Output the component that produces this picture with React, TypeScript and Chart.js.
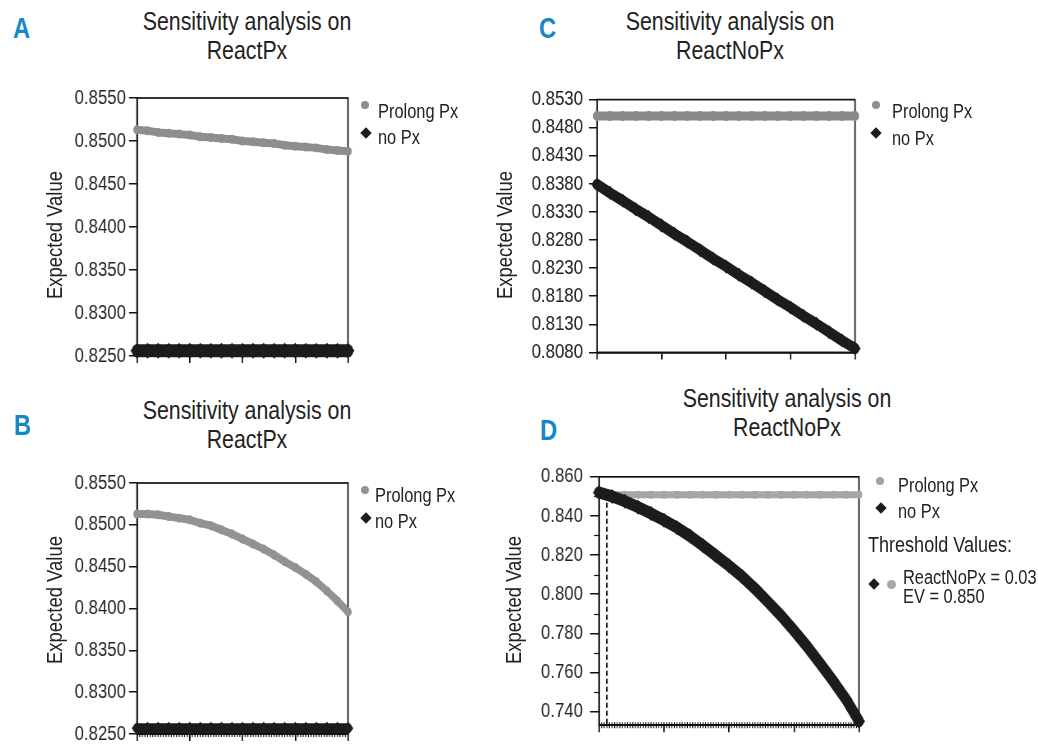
import React, { useEffect, useRef } from "react";
import { Chart, registerables } from "chart.js";

Chart.register(...registerables);

const FONT = '"Liberation Sans", Arial, Helvetica, sans-serif';
const SQ = 0.82; // horizontal condensing (Arial Narrow look)
const INK = "#222222";
const BLACK = "#1c1c1c";
const BLUE = "#1788c3";

// ---------------- data ----------------
const xValues = [0, 0.05, 0.1, 0.15, 0.2, 0.25, 0.3, 0.35, 0.4, 0.45, 0.5, 0.55, 0.6, 0.65, 0.7, 0.75, 0.8, 0.85, 0.9, 0.95, 1];
const xMajorTicks = [0, 0.25, 0.5, 0.75, 1];
const seriesNames = ["Prolong Px", "no Px"];
const chartTitleReact = ["Sensitivity analysis on", "ReactPx"];
const chartTitleNoReact = ["Sensitivity analysis on", "ReactNoPx"];
const yAxisTitle = "Expected Value";

// Panel A
const aProlong = [0.8513, 0.8512, 0.8510, 0.8509, 0.8508, 0.8507, 0.8505, 0.8504, 0.8503, 0.8502, 0.8500, 0.8499, 0.8498, 0.8497, 0.8495, 0.8494, 0.8493, 0.8492, 0.8490, 0.8489, 0.8488];
const aNoPx = [0.8256, 0.8256, 0.8256, 0.8256, 0.8256, 0.8256, 0.8256, 0.8256, 0.8256, 0.8256, 0.8256, 0.8256, 0.8256, 0.8256, 0.8256, 0.8256, 0.8256, 0.8256, 0.8256, 0.8256, 0.8256];
const aYTicks = [0.825, 0.83, 0.835, 0.84, 0.845, 0.85, 0.855];

// Panel B
const bProlong = [0.8513, 0.8513, 0.8512, 0.8510, 0.8508, 0.8506, 0.8502, 0.8499, 0.8494, 0.8489, 0.8483, 0.8477, 0.8471, 0.8464, 0.8456, 0.8449, 0.8441, 0.8432, 0.8421, 0.8409, 0.8396];
const bNoPx = [0.8257, 0.8257, 0.8257, 0.8257, 0.8257, 0.8257, 0.8257, 0.8257, 0.8257, 0.8257, 0.8257, 0.8257, 0.8257, 0.8257, 0.8257, 0.8257, 0.8257, 0.8257, 0.8257, 0.8257, 0.8257];
const bYTicks = [0.825, 0.83, 0.835, 0.84, 0.845, 0.85, 0.855];

// Panel C
const cProlong = [0.8501, 0.8501, 0.8501, 0.8501, 0.8501, 0.8501, 0.8501, 0.8501, 0.8501, 0.8501, 0.8501, 0.8501, 0.8501, 0.8501, 0.8501, 0.8501, 0.8501, 0.8501, 0.8501, 0.8501, 0.8501];
const cNoPx = [0.8379, 0.8364, 0.8350, 0.8335, 0.8321, 0.8306, 0.8291, 0.8277, 0.8262, 0.8247, 0.8233, 0.8218, 0.8204, 0.8189, 0.8174, 0.8160, 0.8145, 0.8131, 0.8116, 0.8101, 0.8087];
const cYTicks = [0.808, 0.813, 0.818, 0.823, 0.828, 0.833, 0.838, 0.843, 0.848, 0.853];

// Panel D
const dProlong = [0.8508, 0.8508, 0.8508, 0.8508, 0.8508, 0.8508, 0.8508, 0.8508, 0.8508, 0.8508, 0.8508, 0.8508, 0.8508, 0.8508, 0.8508, 0.8508, 0.8508, 0.8508, 0.8508, 0.8508, 0.8508];
const dNoPx = [0.8520, 0.8500, 0.8475, 0.8445, 0.8413, 0.8378, 0.8340, 0.8297, 0.8248, 0.8197, 0.8145, 0.8090, 0.8028, 0.7960, 0.7890, 0.7813, 0.7733, 0.7646, 0.7557, 0.7462, 0.7350];
const dYTicks = [0.74, 0.76, 0.78, 0.8, 0.82, 0.84, 0.86];
const dYMinorTicks = [0.75, 0.77, 0.79, 0.81, 0.83, 0.85];
const dThresholdX = [0.03, 0.03];
const dThresholdY = [0.8508, 0.733];
const thresholdHeading = "Threshold Values:";
const thresholdLines = ["ReactNoPx = 0.03", "EV = 0.850"];

// ---------------- plugins ----------------
const framePlugin = {
  id: "frame",
  beforeDatasetsDraw(chart: any) {
    const { ctx, chartArea: a } = chart;
    ctx.save();
    ctx.strokeStyle = "#111";
    ctx.lineWidth = 1.7;
    ctx.strokeRect(a.left, a.top, a.right - a.left, a.bottom - a.top);
    ctx.restore();
  },
};

const minorTickPlugin = {
  id: "minorTicks",
  beforeDatasetsDraw(chart: any, _args: any, opts: any) {
    const { ctx, chartArea: a, scales } = chart;
    ctx.save();
    ctx.strokeStyle = "#111";
    ctx.lineWidth = 1.2;
    if (opts && opts.yValues) {
      for (const v of opts.yValues) {
        const y = Math.round(scales.y.getPixelForValue(v)) + 0.5;
        ctx.beginPath();
        ctx.moveTo(a.left - opts.yLen, y);
        ctx.lineTo(a.left, y);
        ctx.stroke();
      }
    }
    if (opts && opts.xStep) {
      const n = Math.round((scales.x.max - scales.x.min) / opts.xStep);
      for (let i = 0; i <= n; i++) {
        const x = scales.x.getPixelForValue(scales.x.min + i * opts.xStep);
        ctx.beginPath();
        ctx.moveTo(x, a.bottom - 3);
        ctx.lineTo(x, a.bottom + 3);
        ctx.stroke();
      }
    }
    ctx.restore();
  },
};

// ---------------- components ----------------
type Series = {
  xs: number[];
  ys: number[];
  color: string;
  width: number;
  style: string;
  radius: number;
  order: number;
  dash?: number[];
};

type PanelProps = {
  plot: { l: number; t: number; r: number; b: number };
  yMin: number;
  yMax: number;
  yTicks: number[];
  decimals: number;
  tickLen: number;
  tickPad: number;
  yMinor?: number[];
  xMinorStep?: number;
  series: Series[];
};

function Panel(p: PanelProps) {
  const ref = useRef<HTMLCanvasElement>(null);
  const { plot } = p;
  const canvasLeft = plot.l - 85;
  const canvasTop = plot.t - 18;
  const canvasRight = plot.r + 20;
  const canvasBottom = Math.min(plot.b + 16, 750);
  const Wr = canvasRight - canvasLeft;
  const Wv = Math.round(Wr / SQ);
  const s = Wr / Wv;
  const H = canvasBottom - canvasTop;
  const yW = (plot.l - canvasLeft) / s;
  const padR = Wv - (plot.r - canvasLeft) / s;
  const xH = canvasBottom - plot.b;

  useEffect(() => {
    const canvas = ref.current;
    if (!canvas) return;
    const chart = new Chart(canvas, {
      type: "line",
      data: {
        datasets: p.series.map((d) => ({
          data: d.xs.map((x, i) => ({ x, y: d.ys[i] })),
          borderColor: d.color,
          backgroundColor: d.color,
          borderWidth: d.width,
          borderDash: d.dash || [],
          borderJoinStyle: "round",
          borderCapStyle: d.dash ? "butt" : "round",
          pointStyle: d.style as any,
          pointRadius: d.radius,
          pointBorderWidth: 0,
          pointBackgroundColor: d.color,
          tension: 0,
          clip: false as any,
          order: d.order,
          fill: false,
        })),
      },
      options: {
        animation: false,
        responsive: false,
        maintainAspectRatio: false,
        events: [],
        layout: { padding: { left: 0, top: 18, right: padR, bottom: 0 } },
        plugins: {
          legend: { display: false },
          title: { display: false },
          tooltip: { enabled: false },
          minorTicks: { yValues: p.yMinor, yLen: 5 / s, xStep: p.xMinorStep },
        } as any,
        scales: {
          x: {
            type: "linear",
            min: 0,
            max: 1,
            afterBuildTicks: (sc: any) => {
              sc.ticks = xMajorTicks.map((v) => ({ value: v }));
            },
            afterFit: (sc: any) => {
              sc.height = xH;
            },
            ticks: { display: false },
            grid: { drawOnChartArea: false, drawTicks: true, tickLength: 7, color: "#111", lineWidth: 1.7 },
            border: { display: true, color: "#111", width: 1.7 },
          },
          y: {
            type: "linear",
            min: p.yMin,
            max: p.yMax,
            afterBuildTicks: (sc: any) => {
              sc.ticks = p.yTicks.map((v) => ({ value: v }));
            },
            afterFit: (sc: any) => {
              sc.width = yW;
            },
            ticks: {
              autoSkip: false,
              padding: p.tickPad / s,
              color: INK,
              font: { family: FONT, size: 20.5 },
              callback: (v: any) => Number(v).toFixed(p.decimals),
            },
            grid: { drawOnChartArea: false, drawTicks: true, tickLength: p.tickLen / s, color: "#111", lineWidth: 1.5 },
            border: { display: true, color: "#111", width: 1.7 },
            title: { display: false, text: yAxisTitle },
          },
        },
      },
      plugins: [framePlugin, minorTickPlugin],
    });
    return () => chart.destroy();
  }, []);

  return (
    <canvas
      ref={ref}
      width={Wv}
      height={H}
      style={{ position: "absolute", left: canvasLeft, top: canvasTop, width: Wr, height: H }}
    />
  );
}

function Text(props: { x: number; y: number; size: number; lh?: number; bold?: boolean; color?: string; children: React.ReactNode }) {
  return (
    <div
      style={{
        position: "absolute",
        left: props.x,
        top: props.y,
        fontSize: props.size,
        lineHeight: (props.lh || props.size) + "px",
        fontWeight: props.bold ? 700 : 400,
        color: props.color || INK,
        whiteSpace: "nowrap",
        transform: `scaleX(${SQ})`,
        transformOrigin: "left top",
      }}
    >
      {props.children}
    </div>
  );
}

function Title(props: { cx: number; top: number; lines: string[] }) {
  return (
    <div
      style={{
        position: "absolute",
        left: props.cx - 200,
        width: 400,
        top: props.top,
        fontSize: 26,
        lineHeight: "29px",
        textAlign: "center",
        color: INK,
        whiteSpace: "nowrap",
        transform: `scaleX(${SQ})`,
        transformOrigin: "center top",
      }}
    >
      {props.lines.map((l, i) => (
        <div key={i}>{l}</div>
      ))}
    </div>
  );
}

function YTitle(props: { cx: number; cy: number }) {
  return (
    <div
      style={{
        position: "absolute",
        left: props.cx - 100,
        top: props.cy - 13,
        width: 200,
        height: 26,
        fontSize: 22.5,
        lineHeight: "26px",
        textAlign: "center",
        color: INK,
        whiteSpace: "nowrap",
        transform: `rotate(-90deg) scaleX(${SQ})`,
        transformOrigin: "center center",
      }}
    >
      {yAxisTitle}
    </div>
  );
}

function Dot(props: { x: number; y: number; size: number; color: string }) {
  return (
    <div
      style={{
        position: "absolute",
        left: props.x - props.size / 2,
        top: props.y - props.size / 2,
        width: props.size,
        height: props.size,
        borderRadius: "50%",
        background: props.color,
      }}
    />
  );
}

function Diamond(props: { x: number; y: number; size: number }) {
  return (
    <div
      style={{
        position: "absolute",
        left: props.x - props.size / 2,
        top: props.y - props.size / 2,
        width: props.size,
        height: props.size,
        background: BLACK,
        transform: "rotate(45deg)",
      }}
    />
  );
}

export default function App() {
  return (
    <div
      style={{
        position: "absolute",
        left: 0,
        top: 0,
        width: 1038,
        height: 750,
        overflow: "hidden",
        background: "#ffffff",
        fontFamily: FONT,
        color: INK,
      }}
    >
      {/* Panel A */}
      <Panel
        plot={{ l: 137, t: 98, r: 348, b: 356 }}
        yMin={0.825}
        yMax={0.855}
        yTicks={aYTicks}
        decimals={4}
        tickLen={8}
        tickPad={3}
        series={[
          { xs: xValues, ys: aNoPx, color: BLACK, width: 13, style: "rectRot", radius: 8, order: 1 },
          { xs: xValues, ys: aProlong, color: "#8e8e8e", width: 8, style: "circle", radius: 4.5, order: 2 },
        ]}
      />
      <YTitle cx={55} cy={235} />
      <Text x={13} y={14} size={29} bold color={BLUE}>A</Text>
      <Title cx={247} top={7} lines={chartTitleReact} />
      <Dot x={365} y={105} size={8} color="#8e8e8e" />
      <Text x={378} y={101} size={20}>{seriesNames[0]}</Text>
      <Diamond x={366} y={133} size={8} />
      <Text x={378} y={127} size={20}>{seriesNames[1]}</Text>

      {/* Panel C */}
      <Panel
        plot={{ l: 597, t: 98, r: 855, b: 356 }}
        yMin={0.808}
        yMax={0.853}
        yTicks={cYTicks}
        decimals={4}
        tickLen={8}
        tickPad={6}
        series={[
          { xs: xValues, ys: cNoPx, color: BLACK, width: 11, style: "rectRot", radius: 7, order: 1 },
          { xs: xValues, ys: cProlong, color: "#8a8a8a", width: 9, style: "circle", radius: 5, order: 2 },
        ]}
      />
      <YTitle cx={505} cy={235} />
      <Text x={539} y={14} size={29} bold color={BLUE}>C</Text>
      <Title cx={730} top={7} lines={chartTitleNoReact} />
      <Dot x={876} y={105} size={8} color="#8e8e8e" />
      <Text x={892} y={101} size={20}>{seriesNames[0]}</Text>
      <Diamond x={876} y={133} size={8} />
      <Text x={892} y={128} size={20}>{seriesNames[1]}</Text>

      {/* Panel B */}
      <Panel
        plot={{ l: 137, t: 483, r: 348, b: 741 }}
        yMin={0.825}
        yMax={0.855}
        yTicks={bYTicks}
        decimals={4}
        tickLen={8}
        tickPad={3}
        xMinorStep={0.0125}
        series={[
          { xs: xValues, ys: bNoPx, color: BLACK, width: 10, style: "rectRot", radius: 6.5, order: 1 },
          { xs: xValues, ys: bProlong, color: "#929292", width: 8, style: "circle", radius: 4.5, order: 2 },
        ]}
      />
      <YTitle cx={55} cy={600} />
      <Text x={14} y={411} size={29} bold color={BLUE}>B</Text>
      <Title cx={247} top={396} lines={chartTitleReact} />
      <Dot x={365} y={490} size={8} color="#929292" />
      <Text x={375} y={485} size={20}>{seriesNames[0]}</Text>
      <Diamond x={366} y={518} size={8} />
      <Text x={375} y={511} size={20}>{seriesNames[1]}</Text>

      {/* Panel D */}
      <Panel
        plot={{ l: 599, t: 474, r: 859, b: 730 }}
        yMin={0.733}
        yMax={0.86}
        yTicks={dYTicks}
        decimals={3}
        tickLen={9}
        tickPad={7}
        yMinor={dYMinorTicks}
        xMinorStep={0.01}
        series={[
          { xs: xValues, ys: dNoPx, color: BLACK, width: 12, style: "rectRot", radius: 7.5, order: 1 },
          { xs: xValues, ys: dProlong, color: "#a6a6a6", width: 7, style: "circle", radius: 4, order: 2 },
          { xs: dThresholdX, ys: dThresholdY, color: "#111111", width: 2.2, style: "circle", radius: 0, order: 3, dash: [5, 3] },
        ]}
      />
      <YTitle cx={514} cy={600} />
      <Text x={540} y={416} size={29} bold color={BLUE}>D</Text>
      <Title cx={787} top={384} lines={chartTitleNoReact} />
      <Dot x={880} y={481} size={8} color="#a0a0a0" />
      <Text x={898} y={475} size={20}>{seriesNames[0]}</Text>
      <Diamond x={881} y={508} size={8} />
      <Text x={898} y={501} size={20}>{seriesNames[1]}</Text>
      <Text x={868} y={534} size={22}>{thresholdHeading}</Text>
      <Diamond x={874} y={584} size={8} />
      <Dot x={891} y={584} size={9} color="#a8a8a8" />
      <Text x={903} y={568} size={20} lh={18.5}>
        {thresholdLines[0]}
        <br />
        {thresholdLines[1]}
      </Text>
    </div>
  );
}
